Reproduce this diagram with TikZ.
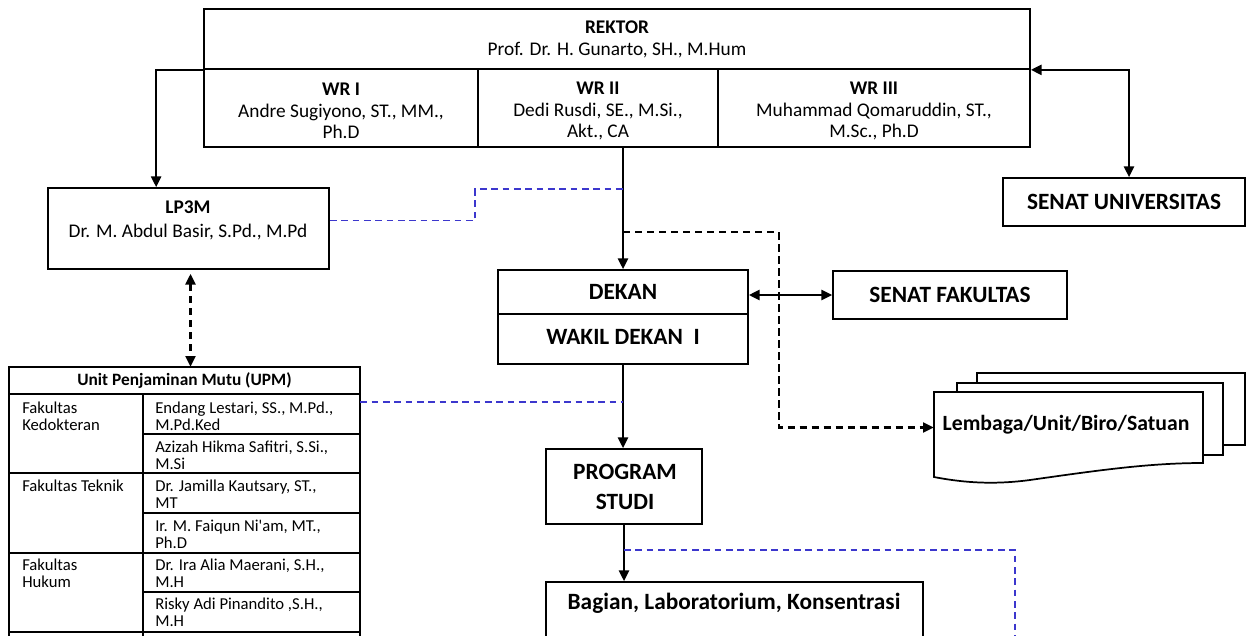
\documentclass[tikz,border=0pt]{standalone}
\usepackage{fontspec}
\setmainfont{Carlito}
\usetikzlibrary{arrows.meta,calc,fit}
\definecolor{dblue}{RGB}{60,55,205}
\tikzset{
  box/.style={draw, line width=1.3pt, inner sep=0pt},
  conn/.style={line width=1.6pt},
  tip/.tip={Triangle[length=8pt,width=7.5pt]},
  arr/.style={conn, -tip},
  arrs/.style={conn, tip-tip},
  kdash/.style={line width=1.6pt, dash pattern=on 5.5pt off 3.5pt},
  bdash/.style={line width=1.4pt, draw=dblue, dash pattern=on 5pt off 3.5pt},
  tb/.style={line width=1pt},
  tR/.style={font=\fontsize{14.5}{16.5}\selectfont, align=center, inner sep=0pt},
  tW/.style={font=\fontsize{14.5}{16.2}\selectfont, align=center, inner sep=0pt},
  tL/.style={font=\fontsize{14.5}{18}\selectfont, align=center, inner sep=0pt},
  tB/.style={font=\fontsize{17.5}{22.5}\selectfont\bfseries, align=center, inner sep=0pt},
  tLem/.style={font=\fontsize{16.3}{20}\selectfont\bfseries, align=center, inner sep=0pt},
  tH/.style={font=\fontsize{13}{15}\selectfont\bfseries, inner sep=0pt},
  tT/.style={font=\fontsize{12.5}{12.9}\selectfont, align=left, anchor=west, inner sep=0pt},
}
\begin{document}
\begin{tikzpicture}[x=0.75pt,y=-0.75pt]
\clip (0,0) rectangle (1251,635);
\fill[white] (0,0) rectangle (1251,635);

% Rektor block
\node[box, fit={(204,9)(1030,69)}] (rtop) {};
\node[box, fit={(204,69)(478,147)}] (wr1) {};
\node[box, fit={(478,69)(718,147)}] (wr2) {};
\node[box, fit={(718,69)(1030,147)}] (wr3) {};
\node[tR] (trk) at (617,39) {\textbf{REKTOR}\\Prof. Dr. H. Gunarto, SH., M.Hum};
\node[tW] (twr1) at (341,111) {\textbf{WR I}\\Andre Sugiyono, ST., MM.,\\Ph.D};
\node[tW] (twr2) at (598,111) {\textbf{WR II}\\Dedi Rusdi, SE., M.Si.,\\Akt., CA};
\node[tW] (twr3) at (874,111) {\textbf{WR III}\\Muhammad Qomaruddin, ST.,\\M.Sc., Ph.D};

% other boxes
\node[box, fit={(48,188)(329,269)}] (lp3m) {};
\node[tL] (tlp) at (188,220) {\textbf{LP3M}\\Dr. M. Abdul Basir, S.Pd., M.Pd};
\node[box, fit={(498,270)(748,314)}] (dekan) {};
\node[box, fit={(498,314)(748,364)}] (wakil) {};
\node[tB] (tdek) at (623,292) {DEKAN};
\node[tB] (twak) at (623,337) {WAKIL DEKAN~ I};
\node[box, fit={(833,271)(1067,319)}] (senf) {};
\node[tB] (tsf) at (950,295) {SENAT FAKULTAS};
\node[box, fit={(1003,178)(1245,226)}] (senu) {};
\node[tB] (tsu) at (1124,202) {SENAT UNIVERSITAS};
\node[box, fit={(546,449)(702,524)}] (ps) {};
\node[tB] (tps) at (625,487) {PROGRAM\\STUDI};
\node[box, fit={(546,582)(923,660)}] (bag) {};
\node[tB] (tbag) at (734,603) {Bagian, Laboratorium, Konsentrasi};

% Lembaga stack
\node[inner sep=0pt, fit={(934,392)(1203,463)}] (lem) {};
\draw[line width=1.3pt, fill=white] (977,373) rectangle (1245,445);
\draw[line width=1.3pt, fill=white] (957,383) rectangle (1223,455);
\draw[line width=1.3pt, fill=white] (934,477) -- (934,392) -- (1203,392) -- (1203,463)
  .. controls (1150,463) and (1100,470) .. (1030,480)
  .. controls (1000,484) and (970,484) .. (934,477) -- cycle;
\node[tLem] (tlem) at (1066,425) {Lembaga/Unit/Biro/Satuan};

% UPM table
\node[inner sep=0pt, fit={(9,367)(360,640)}] (upm) {};
\draw[tb] (9,367) rectangle (360,640);
\draw[tb] (9,394) -- (360,394);
\draw[tb] (143,394) -- (143,640);
\foreach \yy in {434,513,592} \draw[tb] (143,\yy) -- (360,\yy);
\foreach \yy in {473,553,632} \draw[tb] (9,\yy) -- (360,\yy);
\node[tH] (thd) at (184.5,381) {Unit Penjaminan Mutu (UPM)};
\node[tT] (c1) at (22,416.5) {Fakultas\\Kedokteran};
\node[tT] (c2) at (155,416.5) {Endang Lestari, SS., M.Pd.,\\M.Pd.Ked};
\node[tT] (c3) at (155,455) {Azizah Hikma Safitri, S.Si.,\\M.Si};
\node[tT] (c4) at (22,486) {Fakultas Teknik};
\node[tT] (c5) at (155,494) {Dr. Jamilla Kautsary, ST.,\\MT};
\node[tT] (c6) at (155,534) {Ir. M. Faiqun Ni\textquotesingle am, MT.,\\Ph.D};
\node[tT] (c7) at (22,573.5) {Fakultas\\Hukum};
\node[tT] (c8) at (155,573.5) {Dr. Ira Alia Maerani, S.H.,\\M.H};
\node[tT] (c9) at (155,612.5) {Risky Adi Pinandito ,S.H.,\\M.H};

% junctions
\coordinate (j0) at ($(dekan.north)+(0,-80)$);
\coordinate (j1) at ($(dekan.north)+(0,-37)$);
\coordinate (t1) at ($(upm.north east)+(0,35)$);
\coordinate (j3) at ($(ps.south)+(0,25)$);

% connectors
\draw[arr] (rtop.south west) -| ($(lp3m.north west)+(109,0)$);
\draw[arrs] ($(senu.north)+(5,0)$) |- (rtop.south east);
\draw[arr] (dekan.north |- wr2.south) -- (dekan.north);
\draw[kdash, -tip] (j1) -| ($(lem.west)+(-155,0)$) -- (lem.west);
\draw[bdash] ($(lp3m.east)+(0,-8)$) -| ($(j0)+(-148,0)$) -- (j0);
\draw[arrs] (dekan.east |- senf.west) -- (senf.west);
\draw[arr] (wakil.south) -- (wakil.south |- ps.north);
\draw[bdash] (t1) -- (wakil.south |- t1);
\draw[arr] (ps.south) -- (ps.south |- bag.north);
\draw[bdash] (j3) -| ($(bag.north east)+(91,60)$);
\draw[kdash, tip-tip] ($(lp3m.south)+(2,4)$) -- ($(lp3m.south |- upm.north)+(2,0)$);
\end{tikzpicture}
\end{document}
